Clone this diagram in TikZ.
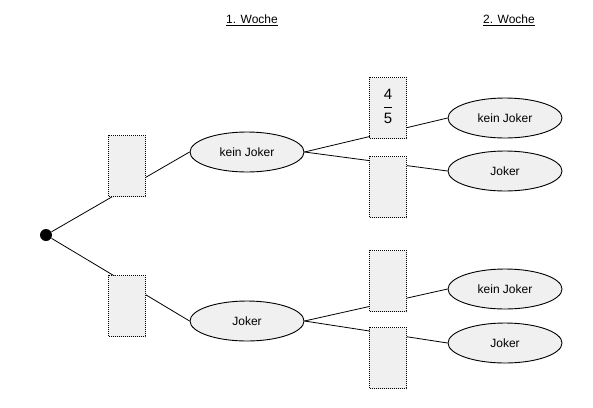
\documentclass[tikz,border=0pt]{standalone}
\usepackage{fontspec}
\setmainfont{Liberation Sans}
\usetikzlibrary{shapes.geometric}
\tikzset{
  feld/.style={draw, line width=0.7pt, dash pattern=on 1pt off 1pt, fill=black!6, minimum width=37pt, minimum height=61pt, inner sep=0pt},
  ereignis/.style={draw, ellipse, line width=0.9pt, fill=black!6, minimum width=114pt, minimum height=40pt, inner sep=0pt},
}
\setlength{\arrayrulewidth}{0.8pt}
\begin{document}
\begin{tikzpicture}[x=1pt, y=-1pt, font=\fontsize{12}{14}\selectfont, line width=0.8pt]
			\useasboundingbox (0,0) rectangle (593,407);
			\node (w1) at (252,20) {\underline{1. Woche}};
			\node (w2) at (509,20) {\underline{2. Woche}};
			\node[circle, fill, inner sep=0pt, minimum size=12pt] (s) at (46,235) {};
			\node[ereignis] (k1) at (247,152) {kein Joker};
			\node[ereignis] (j1) at (247,321) {Joker};
			\node[ereignis] (k2) at (505,118) {kein Joker};
			\node[ereignis] (j2) at (505,171) {Joker};
			\node[ereignis] (k3) at (505,289) {kein Joker};
			\node[ereignis] (j3) at (505,343) {Joker};
			\draw (s) -- (k1.west);
			\draw (s) -- (j1.west);
			\draw (k1.east) -- (k2.west);
			\draw (k1.east) -- (j2.west);
			\draw (j1.east) -- (k3.west);
			\draw (j1.east) -- (j3.west);
			% Felder fuer die Wahrscheinlichkeiten
			\node[feld] (p1) at (127,166) {};
			\node[feld] (p2) at (127,306) {};
			\node[feld, font=\fontsize{15}{17}\selectfont] (p3) at (388,108)
				{\begin{tabular}{@{}c@{}}4\\[2pt]\hline\rule{0pt}{16pt}5\end{tabular}};
			\node[feld] (p4) at (388,187) {};
			\node[feld] (p5) at (388,281) {};
			\node[feld] (p6) at (388,358) {};
		\end{tikzpicture}
\end{document}
